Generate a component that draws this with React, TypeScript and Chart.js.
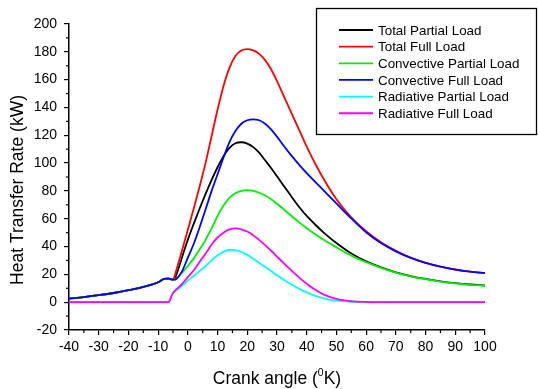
import React, { useEffect, useRef } from "react";
import { Chart, registerables } from "chart.js";

Chart.register(...registerables);

// Crank angle (x values)
const crankAngle = [
  -40, -35, -30, -25, -20, -15, -10, -8, -7, -6.5, -6, -5.5, -5, -4.5, -4,
  -2, 0, 2, 4, 6, 8, 10, 12, 14, 16, 18, 20, 22, 24, 26, 28, 30, 32,
  35, 38, 40, 43, 46, 50, 55, 60, 65, 70, 75, 80, 85, 90, 95, 100,
];

// Motored part shared by total and convective curves (x = -40 .. -5)
const motored = [2.5, 3.6, 5.0, 6.6, 8.6, 11.0, 14.3, 16.8, 17.0, 17.0, 16.8, 16.4, 16.2];

const totalPartialLoad = [
  ...motored,
  17, 19, 32, 45, 56.5, 67.5, 78, 88, 97, 105, 111, 114.3, 115, 114, 111.5, 107.5, 102, 96.5, 90.5, 84.5,
  75.5, 67, 62, 55.5, 49.5, 42.5,
  35, 29.3, 25, 21.5, 18.8, 16.7, 15, 13.7, 12.7, 12,
];

const totalFullLoad = [
  ...motored,
  18.5, 22, 37, 52, 67.5, 83.5, 100.5, 119.5, 138.5, 155.5, 168.5, 177, 181, 182, 181, 178.5, 174, 167.5, 159, 149.5,
  135.3, 121.3, 111.8, 99, 87.5, 74,
  61, 51, 43, 37, 32, 28.3, 25.5, 23.5, 22, 21,
];

const convectivePartialLoad = [
  ...motored,
  16.3, 16.8, 21, 26, 31.5, 38, 45, 53, 62, 69.5, 75, 78.3, 80, 80.5, 80.1, 78.7, 76.7, 74, 70.8, 67.2,
  61.8, 56.5, 53.2, 48.7, 44.5, 39.5,
  33.5, 28.8, 24.7, 21.3, 18.6, 16.5, 14.8, 13.5, 12.5, 11.8,
];

const convectiveFullLoad = [
  ...motored,
  16.2, 16.5, 22, 32, 42, 54, 67, 80, 92, 104, 115, 123, 128.3, 130.8, 131.5, 130.8, 128.3, 124.3, 119, 113.2,
  105, 97.5, 92.8, 86.2, 79.7, 71,
  60.2, 50.3, 42.5, 36.5, 31.8, 28.2, 25.5, 23.4, 22, 21,
];

const radiativePartialLoad = [
  0, 0, 0, 0, 0, 0, 0, 0, 0,
  0, 1.5, 4.5, 6.3, 7.5, 8.3,
  11.5, 15.5, 19, 22.5, 26, 30.2, 33.7, 36.3, 37.7, 37.5, 36.2, 34, 31.3, 28.4, 25.4, 22.4, 19.4, 16.5,
  12.5, 9, 7, 4.5, 2.6, 1.1,
  0.3, 0, 0, 0, 0, 0, 0, 0, 0, 0,
];

const radiativeFullLoad = [
  0, 0, 0, 0, 0, 0, 0, 0, 0,
  0, 1.5, 4.5, 6.5, 8, 9,
  13, 18, 23, 29, 35, 41.5, 46.5, 50, 52.3, 53, 52.4, 50.8, 48.2, 44.8, 41, 37, 32.8, 28.6,
  22.5, 16.8, 13.3, 8.8, 5.3, 2.4,
  0.7, 0.15, 0, 0, 0, 0, 0, 0, 0, 0,
];

const seriesLabels = [
  "Total Partial Load",
  "Total Full Load",
  "Convective Partial Load",
  "Convective Full Load",
  "Radiative Partial Load",
  "Radiative Full Load",
];
const seriesValues = [
  totalPartialLoad,
  totalFullLoad,
  convectivePartialLoad,
  convectiveFullLoad,
  radiativePartialLoad,
  radiativeFullLoad,
];
const seriesColors = ["#000000", "#ff0000", "#00ee00", "#0000ff", "#00ffff", "#ff00ff"];
// drawing order (lower = drawn on top)
const seriesOrder = [4, 3, 2, 1, 5, 0];

const xMin = -40;
const xMax = 100;
const xStep = 10;
const yMin = -20;
const yMax = 200;
const yStep = 20;

const xTitleMain = "Crank angle (";
const xTitleSup = "0";
const xTitleEnd = "K)";
const yTitle = "Heat Transfer Rate (kW)";

const FONT = "'Liberation Sans', Arial, Helvetica, sans-serif";

const extrasPlugin = {
  id: "extras",
  afterDraw(chart: any) {
    const ctx = chart.ctx as CanvasRenderingContext2D;
    const xs = chart.scales.x;
    const ys = chart.scales.y;
    const area = chart.chartArea;
    ctx.save();
    ctx.strokeStyle = "#000";
    ctx.lineWidth = 1.2;
    // minor ticks
    for (let v = xMin + xStep / 2; v < xMax; v += xStep) {
      const px = xs.getPixelForValue(v);
      ctx.beginPath();
      ctx.moveTo(px, area.bottom);
      ctx.lineTo(px, area.bottom + 3);
      ctx.stroke();
    }
    for (let v = yMin + yStep / 2; v < yMax; v += yStep) {
      const py = ys.getPixelForValue(v);
      ctx.beginPath();
      ctx.moveTo(area.left, py);
      ctx.lineTo(area.left - 3, py);
      ctx.stroke();
    }

    // axis titles
    ctx.fillStyle = "#000";
    ctx.textBaseline = "alphabetic";
    const mainFont = `17.5px ${FONT}`;
    const supFont = `10.5px ${FONT}`;
    ctx.font = mainFont;
    const w1 = ctx.measureText(xTitleMain).width;
    const w3 = ctx.measureText(xTitleEnd).width;
    ctx.font = supFont;
    const w2 = ctx.measureText(xTitleSup).width;
    const total = w1 + w2 + w3;
    const cx = (area.left + area.right) / 2;
    let sx = cx - total / 2;
    const baseY = 384;
    ctx.textAlign = "left";
    ctx.font = mainFont;
    ctx.fillText(xTitleMain, sx, baseY);
    sx += w1;
    ctx.font = supFont;
    ctx.fillText(xTitleSup, sx, baseY - 8.3);
    sx += w2;
    ctx.font = mainFont;
    ctx.fillText(xTitleEnd, sx, baseY);

    ctx.save();
    ctx.translate(22.7, 190);
    ctx.rotate(-Math.PI / 2);
    ctx.textAlign = "center";
    ctx.font = mainFont;
    ctx.fillText(yTitle, 0, 0);
    ctx.restore();

    // legend box
    const bx = 316.5, by = 8.5, bw = 220, bh = 126;
    ctx.fillStyle = "#fff";
    ctx.fillRect(bx, by, bw, bh);
    ctx.strokeStyle = "#000";
    ctx.lineWidth = 1.3;
    ctx.strokeRect(bx, by, bw, bh);
    ctx.font = `13.4px ${FONT}`;
    ctx.textAlign = "left";
    ctx.textBaseline = "alphabetic";
    for (let i = 0; i < seriesLabels.length; i++) {
      const ry = 30 + i * 16.65;
      ctx.strokeStyle = seriesColors[i];
      ctx.lineWidth = 1.8;
      ctx.beginPath();
      ctx.moveTo(339, ry);
      ctx.lineTo(373, ry);
      ctx.stroke();
      ctx.fillStyle = "#000";
      ctx.fillText(seriesLabels[i], 378, ry + 4.8);
    }
    ctx.restore();
  },
};

export default function App() {
  const canvasRef = useRef<HTMLCanvasElement | null>(null);

  useEffect(() => {
    document.body.style.margin = "0";
    const canvas = canvasRef.current;
    if (!canvas) return;
    const datasets = seriesLabels.map((label, i) => ({
      label,
      data: crankAngle.map((x, j) => ({ x, y: seriesValues[i][j] })),
      borderColor: seriesColors[i],
      backgroundColor: seriesColors[i],
      borderWidth: 1.8,
      pointRadius: 0,
      fill: false,
      cubicInterpolationMode: "monotone" as const,
      order: seriesOrder[i],
    }));
    const tickFont = { family: FONT, size: 14 };
    const chart = new Chart(canvas, {
      type: "line",
      data: { datasets },
      options: {
        animation: false,
        responsive: false,
        devicePixelRatio: 1,
        layout: { padding: { left: 0, top: 24, right: 53, bottom: 0 } },
        plugins: {
          legend: { display: false },
          tooltip: { enabled: false },
          title: { display: false },
        },
        scales: {
          x: {
            type: "linear",
            min: xMin,
            max: xMax,
            ticks: {
              stepSize: xStep,
              color: "#000",
              font: tickFont,
              padding: 4,
              maxRotation: 0,
              autoSkip: false,
            },
            grid: {
              drawOnChartArea: false,
              drawTicks: true,
              tickLength: 5,
              color: "#000",
              lineWidth: 1.2,
            },
            border: { display: true, color: "#000", width: 1.5 },
            afterFit: (s: any) => {
              s.height = 59;
            },
          },
          y: {
            type: "linear",
            min: yMin,
            max: yMax,
            ticks: {
              stepSize: yStep,
              color: "#000",
              font: tickFont,
              padding: 7,
              autoSkip: false,
            },
            grid: {
              drawOnChartArea: false,
              drawTicks: true,
              tickLength: 5,
              color: "#000",
              lineWidth: 1.2,
            },
            border: { display: true, color: "#000", width: 1.5 },
            afterFit: (s: any) => {
              s.width = 69;
            },
          },
        },
      },
      plugins: [extrasPlugin],
    });
    return () => chart.destroy();
  }, []);

  return (
    <div style={{ width: 538, height: 389, background: "#fff" }}>
      <canvas ref={canvasRef} width={538} height={389} style={{ display: "block" }} />
    </div>
  );
}
